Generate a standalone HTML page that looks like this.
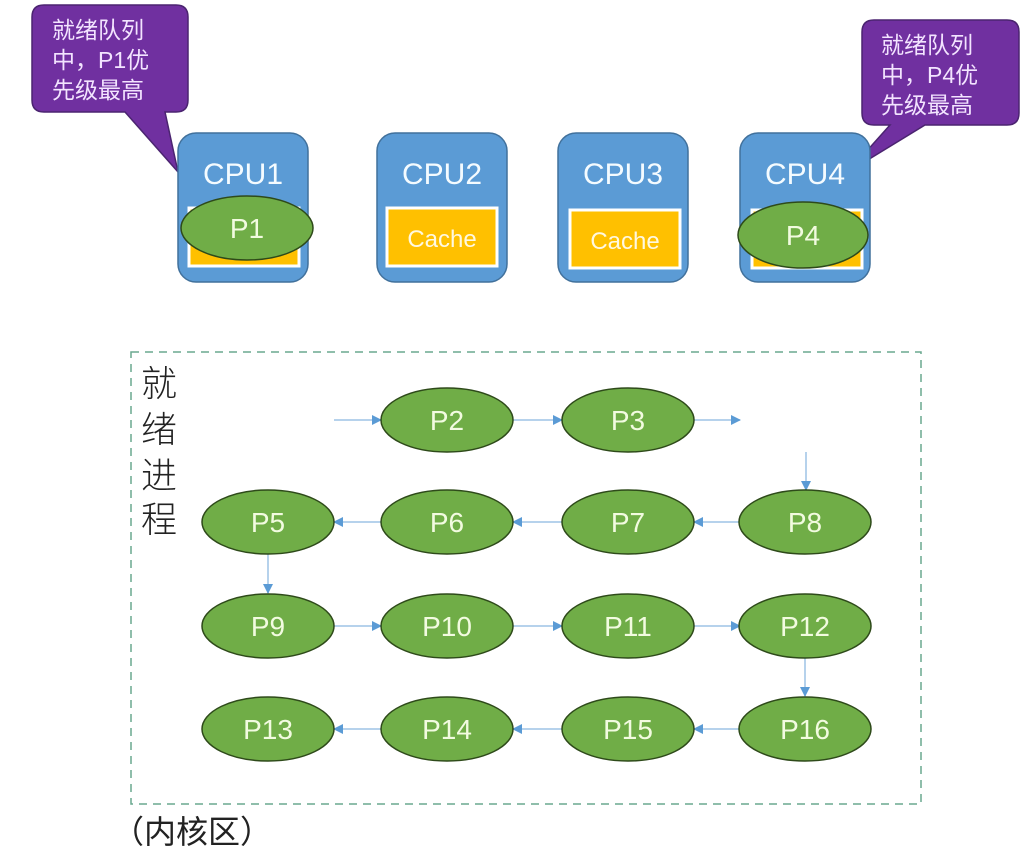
<!DOCTYPE html>
<html><head><meta charset="utf-8"><style>
html,body{margin:0;padding:0;background:#fff;}
svg{display:block;}
.cn{font-family:"Liberation Sans","Noto Sans CJK SC",sans-serif;}
</style></head><body>
<svg width="1032" height="863" viewBox="0 0 1032 863" xmlns="http://www.w3.org/2000/svg">
<defs>
<marker id="ar" markerWidth="10" markerHeight="10" refX="9" refY="5" orient="auto" markerUnits="userSpaceOnUse">
<path d="M0,0 L10,5 L0,10 z" fill="#5b9bd5"/>
</marker>
</defs>
<!-- callout 1 -->
<path d="M44,5 H176 Q188,5 188,17 V100 Q188,112 176,112 H165 L178,172 L125,112 H44 Q32,112 32,100 V17 Q32,5 44,5 Z" fill="#7030a0" stroke="#4b2470" stroke-width="1.5"/>
<g class="cn" fill="#f3e4ff" font-size="23">
<text x="52" y="38">就绪队列</text>
<text x="52" y="68">中，P1优</text>
<text x="52" y="98">先级最高</text>
</g>
<!-- callout 2 -->
<path d="M874,20 H1007 Q1019,20 1019,32 V113 Q1019,125 1007,125 H925 L848,172 L890,125 H874 Q862,125 862,113 V32 Q862,20 874,20 Z" fill="#7030a0" stroke="#4b2470" stroke-width="1.5"/>
<g class="cn" fill="#f3e4ff" font-size="23">
<text x="881" y="53">就绪队列</text>
<text x="881" y="83">中，P4优</text>
<text x="881" y="113">先级最高</text>
</g>
<!-- CPUs -->
<g stroke="#41719c" stroke-width="1.5" fill="#5b9bd5">
<rect x="178" y="133" width="130" height="149" rx="18"/>
<rect x="377" y="133" width="130" height="149" rx="18"/>
<rect x="558" y="133" width="130" height="149" rx="18"/>
<rect x="740" y="133" width="130" height="149" rx="18"/>
</g>
<g fill="#ffc000" stroke="#fff" stroke-width="3">
<rect x="189" y="208" width="110" height="58"/>
<rect x="387" y="208" width="110" height="58"/>
<rect x="570" y="210" width="110" height="58"/>
<rect x="752" y="210" width="110" height="58"/>
</g>
<g class="cn" fill="#f4fbff" font-size="30" text-anchor="middle">
<text x="243" y="184">CPU1</text>
<text x="442" y="184">CPU2</text>
<text x="623" y="184">CPU3</text>
<text x="805" y="184">CPU4</text>
</g>
<g class="cn" fill="#fff8e0" font-size="24" text-anchor="middle">
<text x="442" y="247">Cache</text>
<text x="625" y="249">Cache</text>
</g>
<g fill="#70ad47" stroke="#2e4a1a" stroke-width="1.5">
<ellipse cx="247" cy="228" rx="66" ry="32"/>
<ellipse cx="803" cy="235" rx="65" ry="33"/>
</g>
<g class="cn" fill="#f2fbe0" font-size="28" text-anchor="middle">
<text x="247" y="238">P1</text>
<text x="803" y="245">P4</text>
</g>
<!-- dashed region -->
<rect x="131" y="352" width="790" height="452" fill="none" stroke="#6aa88f" stroke-width="1.5" stroke-dasharray="8,6"/>
<g class="cn" fill="#222" font-size="36" font-weight="300">
<text x="141" y="396">就</text>
<text x="141" y="442">绪</text>
<text x="141" y="488">进</text>
<text x="141" y="532">程</text>
</g>
<text class="cn" x="112" y="843" fill="#222" font-size="32">（内核区）</text>
<!-- arrows -->
<g stroke="#9dc3e6" stroke-width="1.5" marker-end="url(#ar)">
<line x1="334" y1="420" x2="381" y2="420"/>
<line x1="513" y1="420" x2="562" y2="420"/>
<line x1="694" y1="420" x2="740" y2="420"/>
<line x1="806" y1="452" x2="806" y2="490"/>
<line x1="740" y1="522" x2="694" y2="522"/>
<line x1="562" y1="522" x2="513" y2="522"/>
<line x1="381" y1="522" x2="334" y2="522"/>
<line x1="268" y1="554" x2="268" y2="593"/>
<line x1="334" y1="626" x2="381" y2="626"/>
<line x1="513" y1="626" x2="562" y2="626"/>
<line x1="694" y1="626" x2="740" y2="626"/>
<line x1="805" y1="658" x2="805" y2="696"/>
<line x1="740" y1="729" x2="694" y2="729"/>
<line x1="562" y1="729" x2="513" y2="729"/>
<line x1="381" y1="729" x2="334" y2="729"/>
</g>
<g fill="#70ad47" stroke="#2e4a1a" stroke-width="1.5">
<ellipse cx="447" cy="420" rx="66" ry="32"/>
<ellipse cx="628" cy="420" rx="66" ry="32"/>
<ellipse cx="268" cy="522" rx="66" ry="32"/>
<ellipse cx="447" cy="522" rx="66" ry="32"/>
<ellipse cx="628" cy="522" rx="66" ry="32"/>
<ellipse cx="805" cy="522" rx="66" ry="32"/>
<ellipse cx="268" cy="626" rx="66" ry="32"/>
<ellipse cx="447" cy="626" rx="66" ry="32"/>
<ellipse cx="628" cy="626" rx="66" ry="32"/>
<ellipse cx="805" cy="626" rx="66" ry="32"/>
<ellipse cx="268" cy="729" rx="66" ry="32"/>
<ellipse cx="447" cy="729" rx="66" ry="32"/>
<ellipse cx="628" cy="729" rx="66" ry="32"/>
<ellipse cx="805" cy="729" rx="66" ry="32"/>
</g>
<g class="cn" fill="#f2fbe0" font-size="28" text-anchor="middle">
<text x="447" y="430">P2</text>
<text x="628" y="430">P3</text>
<text x="268" y="532">P5</text>
<text x="447" y="532">P6</text>
<text x="628" y="532">P7</text>
<text x="805" y="532">P8</text>
<text x="268" y="636">P9</text>
<text x="447" y="636">P10</text>
<text x="628" y="636">P11</text>
<text x="805" y="636">P12</text>
<text x="268" y="739">P13</text>
<text x="447" y="739">P14</text>
<text x="628" y="739">P15</text>
<text x="805" y="739">P16</text>
</g>
</svg>
</body></html>
